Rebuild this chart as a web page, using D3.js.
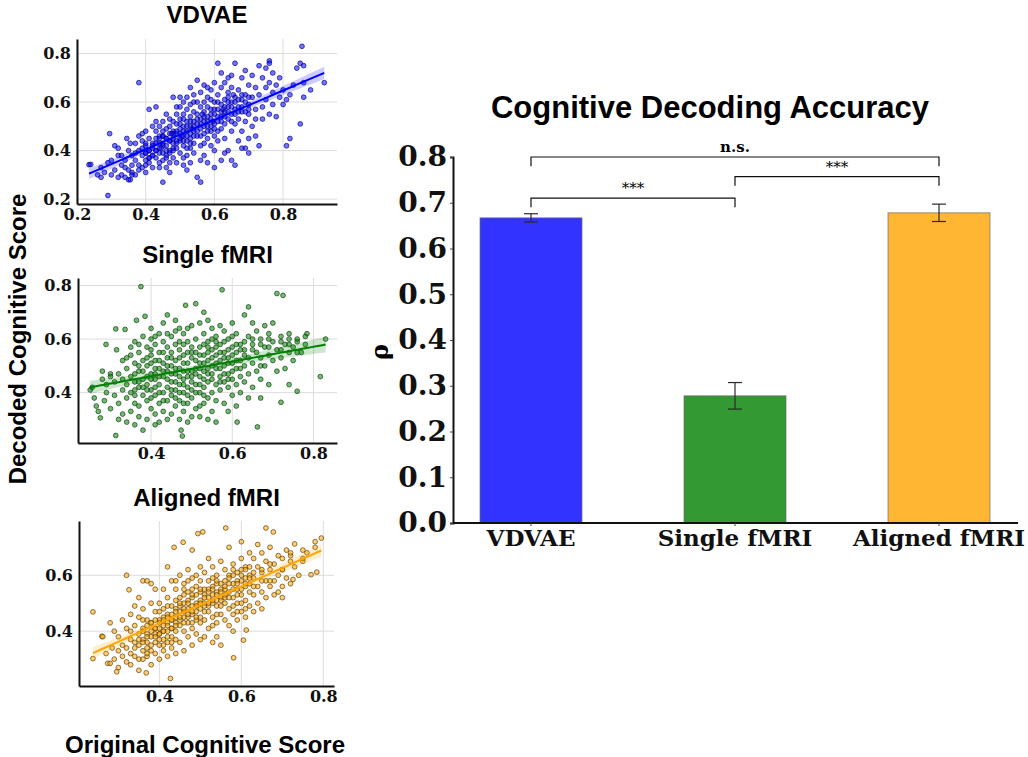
<!DOCTYPE html>
<html>
<head>
<meta charset="utf-8">
<script src="https://cdn.jsdelivr.net/npm/d3@7"></script>
<style>
  body { margin: 0; background: #fff; }
  svg { display: block; }
</style>
</head>
<body>
<div id="chart"></div>
<script>
//Bar chart data
let categories = ["VDVAE", "Single fMRI", "Aligned fMRI"];
let meanRho = [0.667, 0.278, 0.678];
let errRho = [0.009, 0.029, 0.019];
let barColors = ["#3333ff", "#339933", "#ffb733"];
let rhoTicks = [0.0, 0.1, 0.2, 0.3, 0.4, 0.5, 0.6, 0.7, 0.8];
// significance brackets: [from, to, height, label]
let brackets = [
  ["VDVAE", "Single fMRI", 0.71, "***"],
  ["Single fMRI", "Aligned fMRI", 0.757, "***"],
  ["VDVAE", "Aligned fMRI", 0.8, "n.s."]
];

//Scatter data (original score, decoded score)
let vdvaePoints = [
  [0.235,0.342],[0.24,0.343],[0.26,0.30],[0.27,0.33],[0.28,0.31],[0.29,0.215],[0.29,0.35],[0.295,0.47],[0.30,0.30],[0.30,0.36],[0.27,0.29],[0.31,0.42],
  [0.32,0.41],[0.32,0.38],[0.33,0.34],[0.33,0.30],[0.34,0.36],[0.34,0.29],[0.345,0.45],[0.35,0.28],[0.355,0.28],[0.35,0.40],[0.35,0.32],[0.36,0.38],[0.36,0.34],[0.36,0.31],[0.33,0.38],[0.31,0.32],[0.34,0.33],[0.355,0.43],[0.32,0.29],[0.36,0.30],
  [0.37,0.36],[0.37,0.43],[0.37,0.39],[0.38,0.68],[0.38,0.34],[0.38,0.46],[0.38,0.32],[0.39,0.41],[0.39,0.38],[0.39,0.33],[0.39,0.44],[0.40,0.39],[0.40,0.36],[0.40,0.48],[0.40,0.42],[0.40,0.31],[0.41,0.57],[0.41,0.40],[0.41,0.35],[0.41,0.45],[0.41,0.37],[0.42,0.43],[0.42,0.38],[0.42,0.50],[0.42,0.33],[0.42,0.41],[0.37,0.30],[0.38,0.40],[0.39,0.47],[0.40,0.34],
  [0.43,0.58],[0.43,0.45],[0.43,0.40],[0.43,0.37],[0.43,0.48],[0.44,0.43],[0.44,0.50],[0.44,0.35],[0.44,0.41],[0.44,0.33],[0.45,0.46],[0.45,0.27],[0.45,0.39],[0.45,0.52],[0.45,0.43],[0.45,0.36],[0.46,0.49],[0.46,0.42],[0.46,0.55],[0.46,0.38],[0.46,0.45],[0.46,0.33],[0.47,0.47],[0.47,0.40],[0.47,0.53],[0.47,0.44],[0.47,0.35],[0.47,0.50],[0.48,0.62],[0.48,0.43],[0.48,0.48],[0.48,0.37],[0.48,0.52],[0.48,0.41],[0.43,0.52],[0.44,0.46],[0.46,0.40],[0.47,0.31],[0.45,0.48],[0.48,0.45],
  [0.49,0.47],[0.49,0.55],[0.49,0.41],[0.49,0.51],[0.49,0.35],[0.50,0.58],[0.50,0.49],[0.50,0.44],[0.50,0.53],[0.50,0.39],[0.51,0.60],[0.51,0.46],[0.51,0.50],[0.51,0.42],[0.51,0.55],[0.51,0.34],[0.52,0.48],[0.52,0.52],[0.52,0.44],[0.52,0.57],[0.52,0.38],[0.52,0.62],[0.53,0.50],[0.53,0.45],[0.53,0.54],[0.53,0.41],[0.53,0.59],[0.53,0.35],[0.54,0.48],[0.54,0.52],[0.54,0.63],[0.54,0.43],[0.54,0.56],[0.49,0.44],[0.50,0.62],[0.51,0.37],[0.52,0.46],[0.53,0.47],[0.54,0.39],[0.50,0.47],[0.49,0.58],[0.52,0.32],[0.54,0.60],[0.51,0.53],[0.53,0.66],
  [0.55,0.69],[0.55,0.51],[0.55,0.46],[0.55,0.55],[0.55,0.29],[0.56,0.27],[0.56,0.58],[0.56,0.49],[0.56,0.53],[0.56,0.42],[0.56,0.64],[0.57,0.52],[0.57,0.47],[0.57,0.60],[0.57,0.56],[0.57,0.38],[0.57,0.67],[0.58,0.50],[0.58,0.54],[0.58,0.45],[0.58,0.62],[0.58,0.58],[0.58,0.35],[0.59,0.53],[0.59,0.48],[0.59,0.65],[0.59,0.57],[0.59,0.42],[0.60,0.51],[0.60,0.60],[0.60,0.55],[0.60,0.46],[0.60,0.68],[0.60,0.33],[0.55,0.60],[0.56,0.36],[0.57,0.43],[0.58,0.66],[0.59,0.61],[0.60,0.40],
  [0.61,0.76],[0.61,0.57],[0.61,0.52],[0.61,0.63],[0.61,0.44],[0.62,0.72],[0.62,0.59],[0.62,0.54],[0.62,0.49],[0.62,0.66],[0.62,0.36],[0.63,0.61],[0.63,0.56],[0.63,0.51],[0.63,0.68],[0.63,0.45],[0.64,0.58],[0.64,0.64],[0.64,0.53],[0.64,0.40],[0.64,0.70],[0.65,0.60],[0.65,0.55],[0.65,0.66],[0.65,0.48],[0.65,0.36],[0.66,0.76],[0.66,0.62],[0.66,0.57],[0.66,0.34],[0.66,0.51],[0.61,0.48],[0.63,0.39],[0.64,0.62],[0.65,0.71],
  [0.67,0.65],[0.67,0.58],[0.67,0.53],[0.67,0.44],[0.68,0.70],[0.68,0.61],[0.68,0.56],[0.68,0.48],[0.69,0.73],[0.69,0.63],[0.69,0.52],[0.69,0.41],[0.70,0.67],[0.70,0.59],[0.70,0.55],[0.70,0.45],[0.71,0.71],[0.71,0.62],[0.71,0.50],[0.72,0.66],[0.72,0.57],[0.72,0.46],[0.72,0.53],[0.70,0.39],[0.68,0.41],
  [0.73,0.75],[0.73,0.63],[0.73,0.42],[0.74,0.70],[0.74,0.58],[0.74,0.53],[0.75,0.74],[0.75,0.66],[0.75,0.61],[0.76,0.77],[0.76,0.76],[0.76,0.68],[0.76,0.55],[0.77,0.64],[0.77,0.59],[0.77,0.72],[0.78,0.67],[0.78,0.54],[0.79,0.62],[0.79,0.70],[0.80,0.65],[0.80,0.59],
  [0.81,0.42],[0.81,0.61],[0.82,0.45],[0.82,0.63],[0.84,0.74],[0.85,0.51],[0.85,0.76],[0.855,0.83],[0.86,0.75],[0.86,0.62],[0.86,0.68],[0.88,0.65],[0.92,0.68],[0.83,0.67],
  // dense core along the trend
  [0.40,0.39],[0.40,0.43],[0.41,0.40],[0.41,0.37],[0.42,0.42],[0.42,0.38],[0.43,0.43],[0.43,0.40],[0.44,0.39],[0.44,0.45],[0.45,0.42],[0.45,0.46],[0.46,0.45],[0.46,0.37],[0.47,0.44],[0.47,0.39],[0.48,0.47],[0.48,0.40],[0.49,0.48],[0.49,0.43],[0.50,0.45],[0.50,0.51],[0.51,0.48],[0.51,0.44],[0.52,0.50],[0.52,0.41],[0.53,0.52],[0.53,0.43],[0.54,0.46],[0.54,0.50],[0.55,0.48],[0.55,0.53],[0.56,0.51],[0.56,0.46],[0.57,0.54],[0.57,0.50],[0.58,0.52],[0.58,0.48],[0.59,0.55],[0.59,0.50],[0.60,0.57],[0.60,0.49],[0.61,0.54],[0.61,0.60],[0.62,0.56],[0.62,0.52],[0.63,0.58],[0.63,0.54],[0.64,0.56],[0.64,0.60],[0.65,0.58],[0.65,0.52],[0.66,0.60],[0.66,0.55],[0.67,0.61],[0.67,0.56],[0.68,0.58],[0.68,0.63],[0.69,0.60],[0.69,0.56],[0.70,0.62],[0.70,0.57],[0.445,0.41],[0.475,0.47],[0.505,0.46],[0.535,0.49],[0.565,0.55],[0.595,0.52],[0.625,0.57],[0.655,0.63]
];

let singlePoints = [
  [0.25,0.41],[0.255,0.42],[0.26,0.38],[0.265,0.35],[0.27,0.33],[0.275,0.306],[0.28,0.48],[0.28,0.45],[0.285,0.37],[0.289,0.58],[0.29,0.43],[0.29,0.40],[0.30,0.47],[0.30,0.34],[0.30,0.46],[0.31,0.44],[0.31,0.39],[0.313,0.24],[0.313,0.638],[0.315,0.56],[0.32,0.36],[0.32,0.30],
  [0.33,0.52],[0.33,0.45],[0.33,0.41],[0.33,0.32],[0.336,0.636],[0.34,0.49],[0.34,0.43],[0.34,0.38],[0.34,0.29],[0.35,0.57],[0.35,0.54],[0.35,0.46],[0.35,0.40],[0.35,0.33],[0.36,0.59],[0.36,0.51],[0.36,0.44],[0.36,0.36],[0.36,0.28],[0.364,0.67],[0.37,0.55],[0.37,0.48],[0.37,0.42],[0.37,0.35],[0.37,0.31],[0.375,0.796],[0.38,0.61],[0.38,0.52],[0.38,0.45],[0.38,0.39],[0.38,0.26],[0.32,0.47],[0.34,0.53],[0.36,0.41],[0.37,0.58],
  [0.385,0.685],[0.39,0.57],[0.39,0.50],[0.39,0.43],[0.39,0.37],[0.39,0.30],[0.40,0.60],[0.40,0.54],[0.40,0.47],[0.40,0.41],[0.40,0.34],[0.40,0.64],[0.41,0.58],[0.41,0.52],[0.41,0.45],[0.41,0.39],[0.41,0.32],[0.41,0.28],[0.42,0.62],[0.42,0.55],[0.42,0.49],[0.42,0.43],[0.42,0.36],[0.43,0.66],[0.43,0.59],[0.43,0.51],[0.43,0.46],[0.43,0.40],[0.43,0.33],[0.44,0.69],[0.44,0.57],[0.44,0.53],[0.44,0.48],[0.44,0.42],[0.44,0.37],[0.44,0.30],[0.39,0.46],[0.40,0.38],[0.41,0.49],[0.42,0.40],[0.43,0.55],[0.42,0.29],[0.40,0.51],[0.44,0.62],[0.41,0.61],
  [0.45,0.61],[0.45,0.55],[0.45,0.50],[0.45,0.44],[0.45,0.39],[0.45,0.32],[0.46,0.67],[0.46,0.58],[0.46,0.52],[0.46,0.47],[0.46,0.41],[0.46,0.35],[0.47,0.64],[0.47,0.56],[0.47,0.49],[0.47,0.43],[0.47,0.37],[0.47,0.30],[0.474,0.26],[0.477,0.238],[0.48,0.62],[0.48,0.54],[0.48,0.48],[0.48,0.45],[0.48,0.40],[0.48,0.33],[0.485,0.726],[0.49,0.59],[0.49,0.51],[0.49,0.46],[0.49,0.42],[0.49,0.36],[0.49,0.29],[0.50,0.65],[0.50,0.57],[0.50,0.53],[0.50,0.48],[0.50,0.44],[0.50,0.38],[0.50,0.31],[0.45,0.47],[0.46,0.44],[0.47,0.53],[0.48,0.58],[0.49,0.55],[0.50,0.41],[0.46,0.63],[0.47,0.40],[0.48,0.36],[0.49,0.64],
  [0.51,0.732],[0.51,0.60],[0.51,0.55],[0.51,0.49],[0.51,0.43],[0.51,0.34],[0.52,0.66],[0.52,0.57],[0.52,0.51],[0.52,0.46],[0.52,0.40],[0.52,0.31],[0.53,0.70],[0.53,0.62],[0.53,0.54],[0.53,0.48],[0.53,0.42],[0.53,0.36],[0.54,0.59],[0.54,0.52],[0.54,0.47],[0.54,0.44],[0.54,0.38],[0.54,0.30],[0.55,0.64],[0.55,0.56],[0.55,0.50],[0.55,0.45],[0.55,0.40],[0.55,0.33],[0.56,0.61],[0.56,0.54],[0.56,0.49],[0.56,0.43],[0.56,0.37],[0.51,0.52],[0.52,0.43],[0.53,0.58],[0.54,0.55],[0.55,0.60],[0.56,0.57],[0.53,0.45],[0.52,0.35],[0.56,0.29],[0.54,0.67],
  [0.57,0.65],[0.57,0.58],[0.57,0.52],[0.57,0.46],[0.57,0.41],[0.575,0.784],[0.58,0.63],[0.58,0.55],[0.58,0.50],[0.58,0.44],[0.58,0.36],[0.59,0.60],[0.59,0.53],[0.59,0.47],[0.59,0.42],[0.59,0.33],[0.60,0.66],[0.60,0.57],[0.60,0.51],[0.60,0.45],[0.60,0.39],[0.61,0.62],[0.61,0.55],[0.61,0.49],[0.61,0.43],[0.61,0.35],[0.612,0.29],[0.62,0.58],[0.62,0.52],[0.62,0.46],[0.62,0.40],[0.57,0.55],[0.58,0.47],[0.60,0.48],[0.59,0.56],
  [0.63,0.69],[0.63,0.56],[0.63,0.50],[0.63,0.44],[0.64,0.72],[0.64,0.61],[0.64,0.53],[0.64,0.47],[0.64,0.38],[0.65,0.66],[0.65,0.58],[0.65,0.51],[0.65,0.42],[0.66,0.63],[0.66,0.55],[0.66,0.48],[0.662,0.272],[0.67,0.60],[0.67,0.53],[0.67,0.45],[0.67,0.38],[0.68,0.65],[0.68,0.57],[0.68,0.50],[0.69,0.62],[0.69,0.54],[0.69,0.43],[0.70,0.59],[0.70,0.52],[0.70,0.66],
  [0.71,0.77],[0.71,0.56],[0.71,0.48],[0.72,0.61],[0.72,0.364],[0.72,0.53],[0.725,0.763],[0.73,0.58],[0.73,0.49],[0.74,0.60],[0.74,0.55],[0.74,0.43],[0.75,0.57],[0.75,0.52],[0.76,0.405],[0.76,0.59],[0.77,0.55],[0.784,0.62],[0.817,0.46],[0.83,0.60],
  // dense core
  [0.36,0.47],[0.36,0.39],[0.37,0.44],[0.37,0.50],[0.38,0.42],[0.38,0.48],[0.39,0.53],[0.39,0.41],[0.40,0.45],[0.40,0.56],[0.41,0.47],[0.41,0.42],[0.42,0.52],[0.42,0.46],[0.43,0.48],[0.43,0.37],[0.44,0.50],[0.44,0.45],[0.45,0.53],[0.45,0.41],[0.46,0.49],[0.46,0.38],[0.47,0.46],[0.47,0.59],[0.48,0.51],[0.48,0.43],[0.49,0.48],[0.49,0.39],[0.50,0.55],[0.50,0.46],[0.51,0.47],[0.51,0.40],[0.52,0.54],[0.52,0.49],[0.53,0.51],[0.53,0.39],[0.54,0.49],[0.54,0.57],[0.55,0.53],[0.55,0.47],[0.56,0.51],[0.56,0.59],[0.57,0.49],[0.57,0.44],[0.58,0.53],[0.58,0.59],[0.59,0.51],[0.59,0.45],[0.60,0.54],[0.60,0.61],[0.61,0.52],[0.61,0.58],[0.62,0.56],[0.62,0.49],[0.63,0.54],[0.63,0.59],[0.65,0.56],[0.65,0.60],[0.67,0.58],[0.67,0.50],[0.69,0.57],[0.69,0.60],[0.72,0.59],[0.72,0.56],[0.74,0.62],[0.74,0.58],[0.76,0.60],[0.76,0.55],[0.78,0.58],[0.78,0.61]
];

let alignedPoints = [
  [0.238,0.469],[0.238,0.302],[0.26,0.382],[0.262,0.38],[0.27,0.32],[0.274,0.285],[0.28,0.285],[0.28,0.43],[0.285,0.34],[0.29,0.40],[0.29,0.30],[0.296,0.255],[0.30,0.33],[0.30,0.38],[0.30,0.27],[0.31,0.44],[0.31,0.35],[0.31,0.31],[0.32,0.60],[0.32,0.41],[0.32,0.34],[0.32,0.29],
  [0.326,0.548],[0.33,0.46],[0.33,0.37],[0.33,0.32],[0.33,0.28],[0.34,0.49],[0.34,0.42],[0.34,0.36],[0.34,0.31],[0.35,0.45],[0.35,0.39],[0.35,0.35],[0.35,0.30],[0.35,0.26],[0.36,0.58],[0.36,0.48],[0.36,0.41],[0.36,0.37],[0.36,0.33],[0.368,0.251],[0.37,0.58],[0.37,0.44],[0.37,0.39],[0.37,0.34],[0.37,0.31],[0.38,0.57],[0.38,0.50],[0.38,0.43],[0.38,0.38],[0.38,0.33],[0.38,0.28],[0.33,0.40],[0.34,0.34],[0.35,0.37],[0.36,0.44],[0.37,0.36],[0.38,0.35],[0.36,0.30],[0.35,0.52],[0.37,0.32],
  [0.39,0.55],[0.39,0.47],[0.39,0.41],[0.39,0.36],[0.39,0.32],[0.40,0.50],[0.40,0.44],[0.40,0.39],[0.40,0.35],[0.40,0.30],[0.41,0.55],[0.41,0.48],[0.41,0.42],[0.41,0.37],[0.41,0.33],[0.42,0.63],[0.42,0.52],[0.42,0.46],[0.42,0.40],[0.42,0.36],[0.42,0.31],[0.427,0.231],[0.43,0.58],[0.43,0.49],[0.43,0.44],[0.43,0.38],[0.43,0.34],[0.436,0.70],[0.44,0.55],[0.44,0.48],[0.44,0.43],[0.44,0.37],[0.44,0.32],[0.39,0.44],[0.40,0.37],[0.41,0.45],[0.42,0.43],[0.43,0.41],[0.44,0.51],[0.40,0.41],[0.41,0.35],[0.42,0.38],[0.43,0.46],[0.44,0.40],[0.39,0.39],[0.41,0.40],[0.43,0.36],[0.44,0.45],[0.40,0.47],[0.42,0.49],
  [0.45,0.60],[0.45,0.52],[0.45,0.47],[0.45,0.42],[0.45,0.36],[0.458,0.718],[0.46,0.57],[0.46,0.50],[0.46,0.45],[0.46,0.40],[0.46,0.33],[0.47,0.62],[0.47,0.54],[0.47,0.48],[0.47,0.43],[0.47,0.38],[0.48,0.69],[0.48,0.59],[0.48,0.52],[0.48,0.46],[0.48,0.41],[0.48,0.35],[0.49,0.56],[0.49,0.50],[0.49,0.44],[0.49,0.39],[0.494,0.749],[0.50,0.63],[0.50,0.54],[0.50,0.48],[0.50,0.43],[0.50,0.37],[0.45,0.49],[0.46,0.53],[0.47,0.51],[0.48,0.49],[0.49,0.53],[0.50,0.51],[0.46,0.47],[0.47,0.45],[0.48,0.43],[0.49,0.47],[0.50,0.45],[0.45,0.44],[0.46,0.55],[0.47,0.58],[0.49,0.60],[0.48,0.55],[0.50,0.58],[0.44,0.58],
  [0.506,0.755],[0.51,0.61],[0.51,0.55],[0.51,0.50],[0.51,0.44],[0.51,0.38],[0.52,0.66],[0.52,0.58],[0.52,0.52],[0.52,0.47],[0.52,0.41],[0.53,0.63],[0.53,0.56],[0.53,0.50],[0.53,0.45],[0.53,0.36],[0.54,0.60],[0.54,0.54],[0.54,0.49],[0.54,0.43],[0.54,0.38],[0.55,0.65],[0.55,0.57],[0.55,0.52],[0.55,0.46],[0.55,0.35],[0.56,0.62],[0.56,0.55],[0.56,0.50],[0.56,0.44],[0.562,0.769],[0.51,0.53],[0.52,0.49],[0.53,0.53],[0.54,0.51],[0.55,0.55],[0.56,0.58],[0.52,0.55],[0.53,0.59],[0.54,0.57],[0.55,0.49],[0.56,0.52],[0.51,0.47],[0.53,0.42],[0.54,0.46],
  [0.57,0.70],[0.57,0.60],[0.57,0.54],[0.57,0.48],[0.57,0.42],[0.58,0.64],[0.58,0.57],[0.58,0.52],[0.58,0.46],[0.58,0.40],[0.581,0.305],[0.59,0.61],[0.59,0.55],[0.59,0.50],[0.59,0.44],[0.60,0.72],[0.60,0.66],[0.60,0.58],[0.60,0.53],[0.60,0.47],[0.605,0.368],[0.61,0.63],[0.61,0.56],[0.61,0.51],[0.61,0.45],[0.612,0.404],[0.62,0.68],[0.62,0.60],[0.62,0.54],[0.62,0.49],[0.57,0.57],[0.58,0.60],[0.59,0.58],[0.60,0.62],[0.61,0.59],[0.62,0.57],[0.59,0.47],[0.60,0.50],[0.58,0.49],[0.61,0.48],
  [0.63,0.66],[0.63,0.59],[0.63,0.53],[0.63,0.47],[0.64,0.71],[0.64,0.63],[0.64,0.56],[0.64,0.50],[0.65,0.68],[0.65,0.61],[0.65,0.54],[0.65,0.48],[0.66,0.769],[0.66,0.65],[0.66,0.58],[0.66,0.52],[0.67,0.70],[0.67,0.62],[0.67,0.56],[0.678,0.755],[0.68,0.64],[0.68,0.58],[0.68,0.53],[0.69,0.67],[0.69,0.60],[0.69,0.54],[0.70,0.62],[0.70,0.56],
  [0.71,0.69],[0.71,0.59],[0.72,0.67],[0.72,0.57],[0.726,0.585],[0.73,0.712],[0.73,0.63],[0.74,0.60],[0.75,0.65],[0.76,0.68],[0.77,0.602],[0.784,0.611],[0.795,0.733],[0.70,0.52],
  // dense core
  [0.36,0.40],[0.36,0.36],[0.37,0.42],[0.37,0.38],[0.38,0.40],[0.38,0.43],[0.39,0.41],[0.39,0.38],[0.40,0.43],[0.40,0.39],[0.41,0.44],[0.41,0.40],[0.42,0.42],[0.42,0.45],[0.43,0.44],[0.43,0.41],[0.44,0.47],[0.44,0.42],[0.45,0.45],[0.45,0.50],[0.46,0.48],[0.46,0.43],[0.47,0.50],[0.47,0.46],[0.48,0.47],[0.48,0.53],[0.49,0.49],[0.49,0.45],[0.50,0.50],[0.50,0.55],[0.51,0.52],[0.51,0.49],[0.52,0.50],[0.52,0.54],[0.53,0.55],[0.53,0.51],[0.54,0.53],[0.54,0.58],[0.55,0.54],[0.55,0.51],[0.56,0.56],[0.56,0.53],[0.57,0.59],[0.57,0.52],[0.58,0.55],[0.58,0.62],[0.59,0.57],[0.59,0.53],[0.60,0.60],[0.60,0.55],[0.61,0.57],[0.61,0.62],[0.62,0.59],[0.62,0.63],[0.63,0.61],[0.63,0.56],[0.65,0.62],[0.65,0.58],[0.67,0.64],[0.67,0.58],[0.70,0.66],[0.70,0.62],[0.72,0.65],[0.72,0.68],[0.75,0.69],[0.75,0.66],[0.78,0.72],[0.78,0.70]
];

let panelTitles = ["VDVAE", "Single fMRI", "Aligned fMRI"];
let panelXTicks = [[0.2, 0.4, 0.6, 0.8], [0.4, 0.6, 0.8], [0.4, 0.6, 0.8]];
let panelYTicks = [[0.2, 0.4, 0.6, 0.8], [0.4, 0.6, 0.8], [0.4, 0.6]];

const serif = "'DejaVu Serif', serif";
const sans = "'Liberation Sans', Arial, sans-serif";

let svg = d3.select("#chart")
  .append("svg")
  .attr("width", 1028)
  .attr("height", 757);

//Least squares line with 95% band, like seaborn regplot
function fitLine(points) {
  let n = points.length;
  let mx = d3.mean(points, d => d[0]), my = d3.mean(points, d => d[1]);
  let sxx = d3.sum(points, d => (d[0] - mx) ** 2);
  let sxy = d3.sum(points, d => (d[0] - mx) * (d[1] - my));
  let b = sxy / sxx, a = my - b * mx;
  let sse = d3.sum(points, d => (d[1] - a - b * d[0]) ** 2);
  let s = Math.sqrt(sse / (n - 2));
  let ext = d3.extent(points, d => d[0]);
  let xs = d3.range(0, 51).map(i => ext[0] + (ext[1] - ext[0]) * i / 50);
  return xs.map(x => {
    let se = s * Math.sqrt(1 / n + (x - mx) ** 2 / sxx);
    return {x: x, y: a + b * x, lo: a + b * x - 1.97 * se, hi: a + b * x + 1.97 * se};
  });
}

//One scatter panel
function scatterPanel(cfg) {
  let x = d3.scaleLinear().domain(cfg.xDomain).range(cfg.xRange);
  let y = d3.scaleLinear().domain(cfg.yDomain).range(cfg.yRange);
  let g = svg.append("g");

  // grid
  g.append("g").selectAll("line")
    .data(cfg.xTicks).enter().append("line")
    .attr("x1", d => x(d)).attr("x2", d => x(d))
    .attr("y1", cfg.yRange[0]).attr("y2", cfg.yRange[1])
    .attr("stroke", "#dcdcdc").attr("stroke-width", 1);
  g.append("g").selectAll("line")
    .data(cfg.yTicks).enter().append("line")
    .attr("x1", cfg.xRange[0]).attr("x2", cfg.xRange[1])
    .attr("y1", d => y(d)).attr("y2", d => y(d))
    .attr("stroke", "#dcdcdc").attr("stroke-width", 1);

  // dots
  g.append("g").selectAll("circle")
    .data(cfg.points).enter().append("circle")
    .attr("cx", d => x(d[0]))
    .attr("cy", d => y(d[1]))
    .attr("r", 2.4)
    .attr("fill", cfg.color)
    .attr("fill-opacity", 0.55)
    .attr("stroke", cfg.edge)
    .attr("stroke-opacity", 0.85)
    .attr("stroke-width", 0.8);

  // regression line and band
  let fit = fitLine(cfg.points);
  g.append("path")
    .datum(fit)
    .attr("d", d3.area().x(d => x(d.x)).y0(d => y(d.lo)).y1(d => y(d.hi)))
    .attr("fill", cfg.color)
    .attr("fill-opacity", 0.2);
  g.append("path")
    .datum(fit)
    .attr("d", d3.line().x(d => x(d.x)).y(d => y(d.y)))
    .attr("fill", "none")
    .attr("stroke", cfg.color)
    .attr("stroke-width", 2);

  // axes
  let xAxis = g.append("g")
    .attr("transform", "translate(0," + cfg.yRange[0] + ")")
    .call(d3.axisBottom(x).tickValues(cfg.xTicks).tickSize(0).tickPadding(5).tickFormat(d3.format(".1f")));
  let yAxis = g.append("g")
    .attr("transform", "translate(" + cfg.xRange[0] + ",0)")
    .call(d3.axisLeft(y).tickValues(cfg.yTicks).tickSize(0).tickPadding(6).tickFormat(d3.format(".1f")));
  [xAxis, yAxis].forEach(a => {
    a.select(".domain").attr("stroke", "#111").attr("stroke-width", 2);
    a.selectAll("text")
      .attr("font-family", serif)
      .attr("font-weight", "bold")
      .attr("font-size", 16)
      .attr("fill", "#111");
  });

  // title
  g.append("text")
    .attr("x", (cfg.xRange[0] + cfg.xRange[1]) / 2)
    .attr("y", cfg.titleY)
    .attr("text-anchor", "middle")
    .attr("font-family", sans)
    .attr("font-weight", "bold")
    .attr("font-size", 24)
    .text(cfg.title);
}

scatterPanel({
  title: panelTitles[0], titleY: 23, points: vdvaePoints,
  color: "#0000ff", edge: "#00008b",
  xDomain: [0.2, 0.957], xRange: [77, 337],
  yDomain: [0.18, 0.86], yRange: [204, 39],
  xTicks: panelXTicks[0], yTicks: panelYTicks[0]
});
scatterPanel({
  title: panelTitles[1], titleY: 263, points: singlePoints,
  color: "#008000", edge: "#0b3d0b",
  xDomain: [0.22, 0.858], xRange: [78, 337],
  yDomain: [0.212, 0.828], yRange: [443, 278],
  xTicks: panelXTicks[1], yTicks: panelYTicks[1]
});
scatterPanel({
  title: panelTitles[2], titleY: 506, points: alignedPoints,
  color: "#ffa500", edge: "#5a3a00",
  xDomain: [0.204, 0.826], xRange: [79, 334],
  yDomain: [0.204, 0.794], yRange: [686, 521],
  xTicks: panelXTicks[2], yTicks: panelYTicks[2]
});

// shared labels of the scatter column
svg.append("text")
  .attr("transform", "translate(26,339) rotate(-90)")
  .attr("text-anchor", "middle")
  .attr("font-family", sans)
  .attr("font-weight", "bold")
  .attr("font-size", 24)
  .text("Decoded Cognitive Score");
svg.append("text")
  .attr("x", 205)
  .attr("y", 753)
  .attr("text-anchor", "middle")
  .attr("font-family", sans)
  .attr("font-weight", "bold")
  .attr("font-size", 24)
  .text("Original Cognitive Score");

//Bar chart
let bx = d3.scaleBand()
  .domain(categories)
  .range([429, 1041])
  .paddingInner(0.5)
  .paddingOuter(0.25);
let by = d3.scaleLinear()
  .domain([0, 0.8])
  .range([523, 157]);

let bars = svg.append("g");
bars.selectAll("rect")
  .data(categories).enter().append("rect")
  .attr("x", d => bx(d))
  .attr("y", (d, i) => by(meanRho[i]))
  .attr("width", bx.bandwidth())
  .attr("height", (d, i) => by(0) - by(meanRho[i]))
  .attr("fill", (d, i) => barColors[i])
  .attr("stroke", "#6e6e6e")
  .attr("stroke-opacity", 0.7)
  .attr("stroke-width", 1);

// error bars
let errG = bars.append("g").attr("stroke", "#2a2a2a").attr("stroke-width", 1.2);
categories.forEach((c, i) => {
  let cx = bx(c) + bx.bandwidth() / 2;
  errG.append("line").attr("x1", cx).attr("x2", cx)
    .attr("y1", by(meanRho[i] - errRho[i])).attr("y2", by(meanRho[i] + errRho[i]));
  [meanRho[i] - errRho[i], meanRho[i] + errRho[i]].forEach(v => {
    errG.append("line").attr("x1", cx - 7).attr("x2", cx + 7)
      .attr("y1", by(v)).attr("y2", by(v));
  });
});

// axes
let bxAxis = svg.append("g")
  .attr("transform", "translate(0,523)")
  .call(d3.axisBottom(bx).tickSize(3).tickPadding(4));
bxAxis.select(".domain").attr("d", "M453,0H1018").attr("stroke", "#111").attr("stroke-width", 2);
let byAxis = svg.append("g")
  .attr("transform", "translate(453,0)")
  .call(d3.axisLeft(by).tickValues(rhoTicks).tickSize(3).tickPadding(3).tickFormat(d3.format(".1f")));
byAxis.select(".domain").attr("stroke", "#111").attr("stroke-width", 2);
[bxAxis, byAxis].forEach(a => {
  a.selectAll(".tick line").attr("stroke", "#444");
  a.selectAll("text")
    .attr("font-family", serif)
    .attr("font-weight", "bold")
    .attr("fill", "#111");
});
byAxis.selectAll("text").attr("font-size", 28);
bxAxis.selectAll("text").attr("font-size", 23);

svg.append("text")
  .attr("transform", "translate(388,352) rotate(-90)")
  .attr("text-anchor", "middle")
  .attr("font-family", serif)
  .attr("font-weight", "bold")
  .attr("font-size", 24)
  .text("ρ");

svg.append("text")
  .attr("x", 710)
  .attr("y", 118)
  .attr("text-anchor", "middle")
  .attr("font-family", sans)
  .attr("font-weight", "bold")
  .attr("font-size", 31)
  .text("Cognitive Decoding Accuracy");

// significance brackets
let sigG = svg.append("g");
brackets.forEach(b => {
  let x1 = bx(b[0]) + bx.bandwidth() / 2, x2 = bx(b[1]) + bx.bandwidth() / 2;
  let yTop = by(b[2]), yLeg = by(b[2] - 0.02);
  sigG.append("path")
    .attr("d", "M" + x1 + "," + yLeg + "V" + yTop + "H" + x2 + "V" + yLeg)
    .attr("fill", "none")
    .attr("stroke", "#111")
    .attr("stroke-width", 1.2);
  sigG.append("text")
    .attr("x", (x1 + x2) / 2)
    .attr("y", yTop - 5)
    .attr("text-anchor", "middle")
    .attr("font-family", serif)
    .attr("font-weight", b[3] == "n.s." ? "bold" : "normal")
    .attr("font-size", 15)
    .text(b[3]);
});
</script>
</body>
</html>
